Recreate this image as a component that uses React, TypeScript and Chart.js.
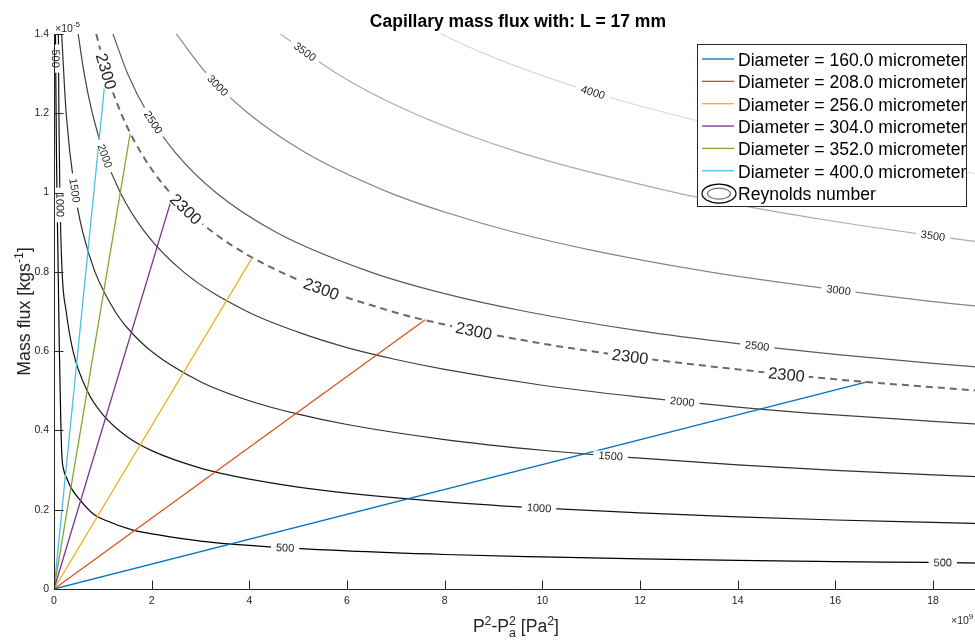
import React, { useEffect, useRef } from "react";
import { Chart, registerables } from "chart.js";

Chart.register(...registerables);

type Pt = [number, number];

// ---------- data ----------
const chartTitle = "Capillary mass flux with: L = 17 mm";
const xTicks = [0, 2, 4, 6, 8, 10, 12, 14, 16, 18];
const yTicks = [0, 0.2, 0.4, 0.6, 0.8, 1, 1.2, 1.4];

const diameters = [160, 208, 256, 304, 352, 400];
const pressureEnd = [16.63, 7.6, 4.06, 2.43, 1.56, 1.065];
const fluxEnd = [0.522, 0.679, 0.836, 0.993, 1.149, 1.306];

const reynoldsLevels = [500, 1000, 1500, 2000, 2300, 2500, 3000, 3500, 4000];

const re500: Pt[] = [[0.03, 1.4], [0.05, 1.1], [0.08, 0.85], [0.11, 0.6], [0.14, 0.42], [0.16, 0.34], [0.2, 0.3], [0.26, 0.28], [0.35, 0.255], [0.53, 0.225], [0.8, 0.19], [1.08, 0.172], [1.6, 0.149], [2.17, 0.136], [3, 0.121], [4, 0.11], [6, 0.096], [8, 0.087], [10, 0.081], [12, 0.076], [14, 0.072], [16, 0.069], [18, 0.067], [20, 0.064]];
const re1000: Pt[] = [[0.09, 1.4], [0.1, 1.2], [0.12, 1.0], [0.166, 0.8], [0.25, 0.7], [0.39, 0.6], [0.68, 0.5], [1, 0.44], [1.5, 0.384], [2, 0.349], [3, 0.305], [4, 0.277], [5, 0.257], [6, 0.242], [8, 0.22], [10, 0.204], [12, 0.192], [14, 0.182], [16, 0.174], [18, 0.168], [20, 0.162]];
const re1500: Pt[] = [[0.157, 1.4], [0.249, 1.2], [0.43, 1.0], [0.589, 0.9], [0.839, 0.8], [1.252, 0.7], [1.5, 0.659], [2, 0.599], [3, 0.523], [4, 0.475], [5, 0.441], [6, 0.415], [8, 0.377], [10, 0.35], [12, 0.33], [14, 0.313], [16, 0.299], [18, 0.288], [20, 0.278]];
const re2000: Pt[] = [[0.495, 1.4], [0.618, 1.3], [0.786, 1.2], [1.02, 1.1], [1.357, 1.0], [1.862, 0.9], [2.651, 0.8], [3.957, 0.7], [5, 0.648], [6, 0.609], [7, 0.579], [8, 0.554], [10, 0.514], [12, 0.484], [14, 0.459], [16, 0.439], [18, 0.423], [20, 0.408]];
const re2300: Pt[] = [[0.865, 1.4], [1.081, 1.3], [1.374, 1.2], [1.784, 1.1], [2.374, 1.0], [3.256, 0.9], [4.637, 0.8], [6.921, 0.7], [8, 0.667], [10, 0.619], [12, 0.583], [14, 0.554], [16, 0.529], [18, 0.509], [20, 0.491]];
const re2500: Pt[] = [[1.208, 1.4], [1.508, 1.3], [1.918, 1.2], [2.49, 1.1], [3.314, 1.0], [4.546, 0.9], [6.472, 0.8], [8, 0.745], [9.661, 0.7], [12, 0.651], [14, 0.619], [16, 0.592], [18, 0.569], [20, 0.549]];
const re3000: Pt[] = [[2.504, 1.4], [3.127, 1.3], [3.976, 1.2], [5.162, 1.1], [6.871, 1.0], [8, 0.951], [9.425, 0.9], [11, 0.855], [13.42, 0.8], [16, 0.755], [18, 0.725], [20, 0.7]];
const re3500: Pt[] = [[4.639, 1.4], [5.794, 1.3], [7.366, 1.2], [9.563, 1.1], [12.729, 1.0], [14, 0.969], [16, 0.927], [18, 0.891], [20, 0.86]];
const re4000: Pt[] = [[7.915, 1.4], [8.827, 1.35], [9.885, 1.3], [11.12, 1.25], [12.568, 1.2], [14.28, 1.15], [16.317, 1.1], [18.76, 1.05], [21.72, 1.0]];

const contourPoints: Pt[][] = [re500, re1000, re1500, re2000, re2300, re2500, re3000, re3500, re4000];

// ---------- layout / style ----------
const FONT = '"Liberation Sans", Arial, Helvetica, sans-serif';
const CANVAS_W = 990;
const CANVAS_H = 640;
const X_MAX = 19;
const Y_MAX = 1.4;
const AREA_LEFT = 54;
const AREA_TOP = 34;
const AREA_RIGHT = 981.8;
const AREA_BOTTOM = 589;
const AXIS_COLOR = "#262626";

const diameterColors = ["#0072BD", "#D95319", "#EDB120", "#7E2F8E", "#77AC30", "#4DBEEE"];
const contourColors = ["#000000", "#141414", "#2e2e2e", "#404040", "#6a6a6a", "#5a5a5a", "#858585", "#ababab", "#d8d8d8"];

const labelSpots: Record<number, Pt[]> = {
  500: [[0.02, 1.34], [4.73, 0.103], [18.2, 0.066]],
  1000: [[0.12, 0.969], [9.95, 0.199]],
  1500: [[0.39, 1.007], [11.43, 0.33]],
  2000: [[1.02, 1.09], [12.88, 0.467]],
  2300: [[1.04, 1.304], [2.66, 0.956], [5.41, 0.75], [8.56, 0.646], [11.78, 0.583], [14.97, 0.537]],
  2500: [[1.88, 1.163], [14.4, 0.608]],
  3000: [[3.32, 1.264], [16.03, 0.747]],
  3500: [[5.06, 1.345], [17.96, 0.885]],
  4000: [[11.02, 1.244]],
};

type Run = { t: string; s: number; dy?: number; stack?: boolean; bold?: boolean };

function drawRuns(ctx: CanvasRenderingContext2D, runs: Run[], x: number, y: number, align: "left" | "center", color: string) {
  const placed: { r: Run; x: number }[] = [];
  let cx = 0;
  let stackW = 0;
  for (const r of runs) {
    ctx.font = `${r.bold ? "bold " : ""}${r.s}px ${FONT}`;
    const w = ctx.measureText(r.t).width;
    placed.push({ r, x: cx });
    if (r.stack) {
      stackW = w;
    } else {
      cx += Math.max(w, stackW);
      stackW = 0;
    }
  }
  const start = align === "center" ? x - cx / 2 : x;
  ctx.fillStyle = color;
  ctx.textAlign = "left";
  ctx.textBaseline = "alphabetic";
  for (const p of placed) {
    ctx.font = `${p.r.bold ? "bold " : ""}${p.r.s}px ${FONT}`;
    ctx.fillText(p.r.t, start + p.x, y + (p.r.dy || 0));
  }
}

function sampleCurve(els: any[]): Pt[] {
  const out: Pt[] = [];
  for (let i = 0; i < els.length - 1; i++) {
    const a = els[i];
    const b = els[i + 1];
    const c1x = a.cp2x ?? a.x;
    const c1y = a.cp2y ?? a.y;
    const c2x = b.cp1x ?? b.x;
    const c2y = b.cp1y ?? b.y;
    const n = 30;
    for (let k = 0; k < n; k++) {
      const t = k / n;
      const m = 1 - t;
      out.push([
        m * m * m * a.x + 3 * m * m * t * c1x + 3 * m * t * t * c2x + t * t * t * b.x,
        m * m * m * a.y + 3 * m * m * t * c1y + 3 * m * t * t * c2y + t * t * t * b.y,
      ]);
    }
  }
  const last = els[els.length - 1];
  out.push([last.x, last.y]);
  return out;
}

function drawContourLabels(chart: any) {
  const ctx: CanvasRenderingContext2D = chart.ctx;
  const xs = chart.scales.x;
  const ys = chart.scales.y;
  reynoldsLevels.forEach((lv, k) => {
    const meta = chart.getDatasetMeta(diameters.length + k);
    const samples = sampleCurve(meta.data as any[]);
    const big = lv === 2300;
    const size = big ? 16.5 : 11;
    const text = String(lv);
    (labelSpots[lv] || []).forEach(([sx, sy]) => {
      const px = xs.getPixelForValue(sx);
      const py = ys.getPixelForValue(sy);
      let bi = 0;
      let bd = Infinity;
      samples.forEach((s, i) => {
        const d = (s[0] - px) ** 2 + (s[1] - py) ** 2;
        if (d < bd) {
          bd = d;
          bi = i;
        }
      });
      const p0 = samples[Math.max(0, bi - 4)];
      const p1 = samples[Math.min(samples.length - 1, bi + 4)];
      let ang = Math.atan2(p1[1] - p0[1], p1[0] - p0[0]);
      if (ang > Math.PI / 2) ang -= Math.PI;
      if (ang < -Math.PI / 2) ang += Math.PI;
      const c = samples[bi];
      ctx.save();
      ctx.translate(c[0], c[1]);
      ctx.rotate(ang);
      ctx.font = `${size}px ${FONT}`;
      const w = ctx.measureText(text).width;
      const pad = big ? 4 : 5;
      const h = size * 0.8;
      ctx.fillStyle = "#ffffff";
      ctx.fillRect(-w / 2 - pad, -h / 2, w + 2 * pad, h);
      ctx.fillStyle = AXIS_COLOR;
      ctx.textAlign = "center";
      ctx.textBaseline = "middle";
      ctx.fillText(text, 0, size * 0.06);
      ctx.restore();
    });
  });
}

function drawAxes(chart: any) {
  const ctx: CanvasRenderingContext2D = chart.ctx;
  const a = chart.chartArea;
  const xs = chart.scales.x;
  const ys = chart.scales.y;
  ctx.save();
  ctx.strokeStyle = AXIS_COLOR;
  ctx.lineWidth = 1;
  ctx.beginPath();
  const left = Math.round(a.left) + 0.5;
  const bottom = Math.round(a.bottom) + 0.5;
  ctx.moveTo(left, a.top);
  ctx.lineTo(left, bottom);
  ctx.lineTo(a.right, bottom);
  xTicks.forEach((v) => {
    const x = Math.round(xs.getPixelForValue(v)) + 0.5;
    ctx.moveTo(x, bottom);
    ctx.lineTo(x, bottom - 9);
  });
  yTicks.forEach((v) => {
    const y = Math.round(ys.getPixelForValue(v)) + 0.5;
    ctx.moveTo(left, y);
    ctx.lineTo(left + 9, y);
  });
  ctx.stroke();
  ctx.restore();
}

function drawLegend(chart: any) {
  const ctx: CanvasRenderingContext2D = chart.ctx;
  ctx.save();
  const bx = 697.5;
  const by = 44.5;
  const bw = 269;
  const bh = 162;
  ctx.fillStyle = "#ffffff";
  ctx.fillRect(bx, by, bw, bh);
  ctx.strokeStyle = AXIS_COLOR;
  ctx.lineWidth = 1;
  ctx.strokeRect(bx, by, bw, bh);
  const step = 22.35;
  const base0 = 66;
  const legendFont = `17.6px ${FONT}`;
  diameters.forEach((d, i) => {
    const base = base0 + i * step;
    const ly = base - 7;
    ctx.strokeStyle = diameterColors[i];
    ctx.lineWidth = 1.3;
    ctx.beginPath();
    ctx.moveTo(702, ly);
    ctx.lineTo(734, ly);
    ctx.stroke();
    ctx.fillStyle = "#000000";
    ctx.font = legendFont;
    ctx.textAlign = "left";
    ctx.textBaseline = "alphabetic";
    ctx.fillText(`Diameter = ${d.toFixed(1)} micrometer`, 738, base);
  });
  const base = base0 + 6 * step;
  const cy = base - 6.5;
  ctx.strokeStyle = "#000000";
  ctx.lineWidth = 1.2;
  ctx.beginPath();
  ctx.ellipse(719, cy, 17, 9.5, 0, 0, Math.PI * 2);
  ctx.stroke();
  ctx.strokeStyle = "#707070";
  ctx.beginPath();
  ctx.ellipse(719, cy, 11.5, 5.5, 0, 0, Math.PI * 2);
  ctx.stroke();
  ctx.fillStyle = "#000000";
  ctx.font = legendFont;
  ctx.fillText("Reynolds number", 738, base);
  ctx.restore();
}

function drawTexts(chart: any) {
  const ctx: CanvasRenderingContext2D = chart.ctx;
  const a = chart.chartArea;
  ctx.save();
  // title
  ctx.fillStyle = "#000000";
  ctx.font = `bold 17.5px ${FONT}`;
  ctx.textAlign = "center";
  ctx.textBaseline = "alphabetic";
  ctx.fillText(chartTitle, (a.left + a.right) / 2, 27);
  // exponents
  drawRuns(ctx, [{ t: "\u00d710", s: 10.5 }, { t: "-5", s: 8, dy: -5 }], 55, 32, "left", AXIS_COLOR);
  drawRuns(ctx, [{ t: "\u00d710", s: 10.5 }, { t: "9", s: 8, dy: -5 }], 951, 624, "left", AXIS_COLOR);
  // x label
  drawRuns(
    ctx,
    [
      { t: "P", s: 17.6 },
      { t: "2", s: 12.3, dy: -7.5 },
      { t: "-P", s: 17.6 },
      { t: "2", s: 12.3, dy: -7.5, stack: true },
      { t: "a", s: 12.3, dy: 5 },
      { t: " [Pa", s: 17.6 },
      { t: "2", s: 12.3, dy: -7.5 },
      { t: "]", s: 17.6 },
    ],
    (a.left + a.right) / 2 - 2,
    632,
    "center",
    AXIS_COLOR
  );
  // y label
  ctx.translate(30, (a.top + a.bottom) / 2);
  ctx.rotate(-Math.PI / 2);
  drawRuns(
    ctx,
    [
      { t: "Mass flux [kgs", s: 17.8 },
      { t: "-1", s: 12.3, dy: -7.5 },
      { t: "]", s: 17.8 },
    ],
    0,
    0,
    "center",
    AXIS_COLOR
  );
  ctx.restore();
}

const overlayPlugin = {
  id: "matlabOverlay",
  afterDatasetsDraw(chart: any) {
    drawContourLabels(chart);
  },
  afterDraw(chart: any) {
    drawAxes(chart);
    drawLegend(chart);
    drawTexts(chart);
  },
};

export default function App() {
  const ref = useRef<HTMLCanvasElement>(null);

  useEffect(() => {
    const canvas = ref.current;
    if (!canvas) return;

    const datasets: any[] = [
      ...diameters.map((d, i) => ({
        label: `Diameter = ${d.toFixed(1)} micrometer`,
        data: [
          { x: 0, y: 0 },
          { x: pressureEnd[i], y: fluxEnd[i] },
        ],
        borderColor: diameterColors[i],
        backgroundColor: diameterColors[i],
        borderWidth: 1.3,
        pointRadius: 0,
        tension: 0,
        fill: false,
      })),
      ...reynoldsLevels.map((lv, k) => ({
        label: `Re = ${lv}`,
        data: contourPoints[k].map(([x, y]) => ({ x, y })),
        borderColor: contourColors[k],
        backgroundColor: contourColors[k],
        borderWidth: lv === 2300 ? 2 : 1.2,
        borderDash: lv === 2300 ? [7, 5] : [],
        cubicInterpolationMode: "monotone",
        capBezierPoints: false,
        pointRadius: 0,
        fill: false,
      })),
    ];

    const chart = new Chart(canvas, {
      type: "line",
      data: { datasets },
      plugins: [overlayPlugin],
      options: {
        responsive: false,
        animation: false,
        devicePixelRatio: 1,
        events: [],
        layout: {
          padding: { top: AREA_TOP, left: 0, right: CANVAS_W - AREA_RIGHT, bottom: 0 },
        },
        plugins: {
          legend: { display: false },
          tooltip: { enabled: false },
          title: { display: false },
        },
        scales: {
          x: {
            type: "linear",
            min: 0,
            max: X_MAX,
            afterFit: (s: any) => {
              s.height = CANVAS_H - AREA_BOTTOM;
            },
            afterBuildTicks: (s: any) => {
              s.ticks = xTicks.map((v) => ({ value: v }));
            },
            grid: { display: false, drawTicks: false },
            border: { display: false },
            ticks: {
              padding: 6,
              color: AXIS_COLOR,
              font: { family: FONT, size: 10.5 },
              maxRotation: 0,
              autoSkip: false,
              callback: (v: any) => String(v),
            },
          },
          y: {
            type: "linear",
            min: 0,
            max: Y_MAX,
            afterFit: (s: any) => {
              s.width = AREA_LEFT;
            },
            afterBuildTicks: (s: any) => {
              s.ticks = yTicks.map((v) => ({ value: v }));
            },
            grid: { display: false, drawTicks: false },
            border: { display: false },
            ticks: {
              padding: 5,
              color: AXIS_COLOR,
              font: { family: FONT, size: 10.5 },
              autoSkip: false,
              callback: (v: any) => String(Number(Number(v).toFixed(1))),
            },
          },
        },
      } as any,
    });

    return () => chart.destroy();
  }, []);

  return (
    <div
      style={{
        position: "fixed",
        left: 0,
        top: 0,
        width: 975,
        height: 640,
        overflow: "hidden",
        background: "#ffffff",
      }}
    >
      <canvas
        ref={ref}
        width={CANVAS_W}
        height={CANVAS_H}
        style={{ display: "block", width: CANVAS_W, height: CANVAS_H }}
      />
    </div>
  );
}
